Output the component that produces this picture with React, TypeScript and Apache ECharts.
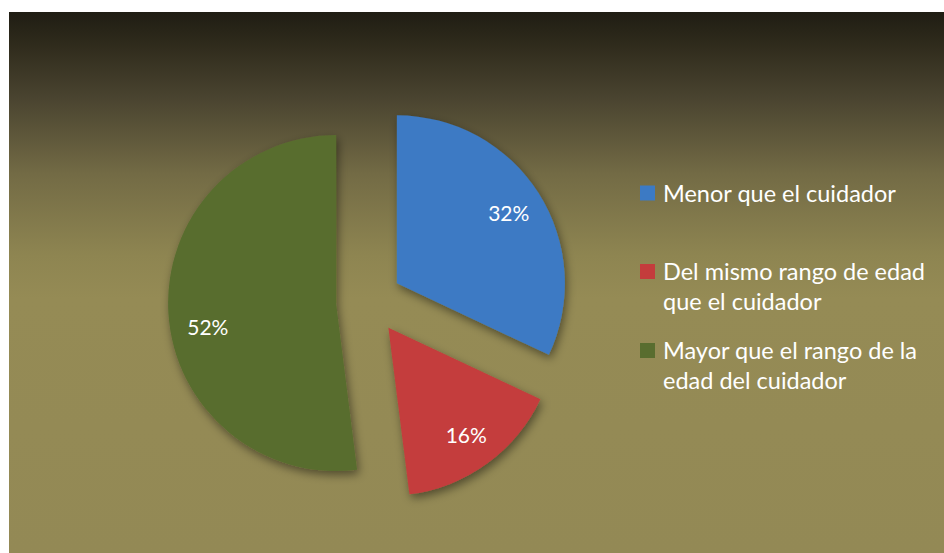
import React, { useEffect, useRef } from "react";
import * as echarts from "echarts";

const categories = [
  "Menor que el cuidador",
  "Del mismo rango de edad que el cuidador",
  "Mayor que el rango de la edad del cuidador",
];
const legendLines = [
  "Menor que el cuidador",
  "Del mismo rango de edad\nque el cuidador",
  "Mayor que el rango de la\nedad del cuidador",
];
const values = [32, 16, 52];
const colors = ["#3c7ac4", "#c43c3c", "#596d2f"];

const FONT = "Lato, 'Open Sans', sans-serif";
const CENTER = [369, 301];
const R = 168;
const OFFSET = 33;

const tallIcon = "path://M0,0L0.01,0M0,60L0.01,60M0,8L15,8L15,23L0,23Z";
const labelTweaks = [
  {},
  {},
  { padding: [0, 0, 0, 8], formatter: "\n{d}%", lineHeight: 30 },
];

export default function App() {
  const ref = useRef<HTMLDivElement>(null);
  useEffect(() => {
    if (!ref.current) return;
    const chart = echarts.init(ref.current, null, { renderer: "svg" });
    const data = categories.map((name, i) => ({
      name,
      value: values[i],
      selected: true,
      itemStyle: { color: colors[i] },
    }));
    const labelData = categories.map((name, i) => ({
      name,
      value: values[i],
      selected: true,
      label: labelTweaks[i],
    }));
    const legendBase = (i: number, top: number, icon: string, h: number) => ({
      orient: "vertical",
      left: 640,
      top,
      padding: 0,
      itemWidth: 15,
      itemHeight: h,
      icon,
      selectedMode: false,
      data: [categories[i]],
      formatter: () => legendLines[i],
      itemStyle: { borderWidth: 0, shadowBlur: 0 },
      textStyle: {
        color: "#ffffff",
        fontSize: 23.5,
        lineHeight: 30,
        fontFamily: FONT,
        padding: [0, 0, 0, 3],
      },
    });
    chart.setOption({
      animation: false,
      backgroundColor: "#ffffff",
      graphic: [
        {
          type: "rect",
          z: -10,
          shape: { x: 9, y: 12, width: 935, height: 541 },
          style: {
            fill: new echarts.graphic.LinearGradient(0, 0, 0, 1, [
              { offset: 0, color: "#1f1d13" },
              { offset: 0.06, color: "#2f2b1c" },
              { offset: 0.16, color: "#4a4430" },
              { offset: 0.3, color: "#736b45" },
              { offset: 0.45, color: "#8e8551" },
              { offset: 0.53, color: "#958b55" },
              { offset: 1, color: "#938955" },
            ]),
          },
          silent: true,
        },
      ],
      legend: [
        legendBase(0, 178, "rect", 15),
        legendBase(1, 256, tallIcon, 60),
        legendBase(2, 335, tallIcon, 60),
      ],
      series: [
        {
          type: "pie",
          center: CENTER,
          radius: R,
          startAngle: 90,
          clockwise: true,
          selectedMode: "multiple",
          selectedOffset: OFFSET,
          data,
          label: { show: false },
          labelLine: { show: false },
          emphasis: { disabled: true },
          silent: true,
          itemStyle: {
            borderWidth: 0,
            shadowBlur: 10,
            shadowOffsetX: 2,
            shadowOffsetY: 4,
            shadowColor: "rgba(0,0,0,0.45)",
          },
        },
        {
          type: "pie",
          center: CENTER,
          radius: [Math.round(R * 0.54), R],
          startAngle: 90,
          clockwise: true,
          selectedMode: "multiple",
          selectedOffset: OFFSET,
          data: labelData,
          silent: true,
          emphasis: { disabled: true },
          itemStyle: { color: "rgba(0,0,0,0)", borderWidth: 0 },
          labelLine: { show: false },
          label: {
            show: true,
            position: "inside",
            rotate: 0,
            formatter: "{d}%",
            color: "#ffffff",
            fontSize: 21,
            fontFamily: FONT,
          },
        },
      ],
    });
    return () => chart.dispose();
  }, []);
  return (
    <div
      ref={ref}
      style={{ position: "fixed", left: 0, top: 0, width: 944, height: 553 }}
    />
  );
}
